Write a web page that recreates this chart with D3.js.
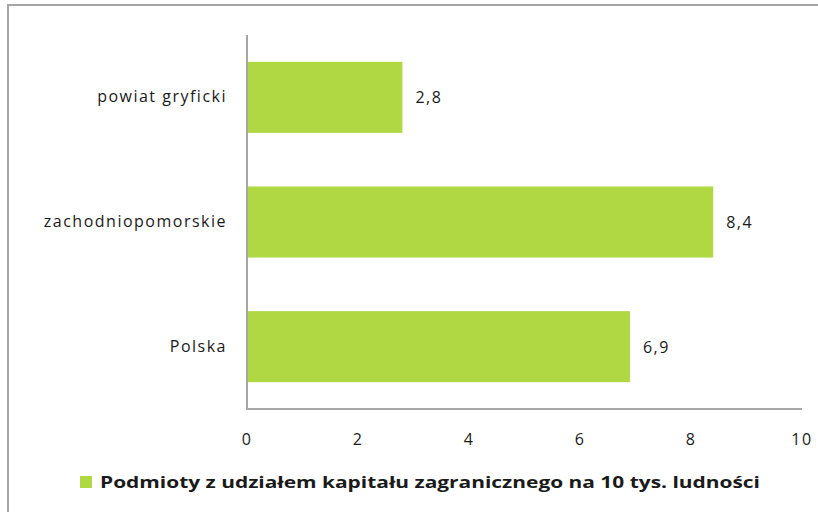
<!DOCTYPE html>
<html>
<head>
<meta charset="utf-8">
<script src="https://cdn.jsdelivr.net/npm/d3@7"></script>
<style>
  body { margin: 0; background: #fff; }
  text { font-family: "Open Sans", "DejaVu Sans", sans-serif; fill: #1a1a1a; }
  .tick, .cat, .val { font-size: 16px; letter-spacing: 1.5px; }
</style>
</head>
<body>
<div class="canvas"></div>
<script>
// data
var categories = ["powiat gryficki", "zachodniopomorskie", "Polska"];
var values = [2.8, 8.4, 6.9];
var ticks = [0, 2, 4, 6, 8, 10];
var seriesName = "Podmioty z udziałem kapitału zagranicznego na 10 tys. ludności";

var width = 818, height = 512;
var svg = d3.select(".canvas")
            .append("svg")
            .attr("width", width)
            .attr("height", height);

// chart border
svg.append("rect")
   .attr("x", 8)
   .attr("y", 5)
   .attr("width", 830)
   .attr("height", 530)
   .attr("fill", "none")
   .attr("stroke", "#a6a6a6")
   .attr("stroke-width", 2);

var x = d3.scaleLinear().domain([0, 10]).range([247, 802]);
var y = d3.scaleBand().domain(categories).range([35, 409]).paddingInner(0.43).paddingOuter(0.215);

// bars
svg.selectAll(".bar")
   .data(values)
   .enter()
   .append("rect")
   .attr("class", "bar")
   .attr("x", x(0))
   .attr("y", function(d, i){ return y(categories[i]); })
   .attr("width", function(d){ return x(d) - x(0); })
   .attr("height", y.bandwidth())
   .attr("fill", "#afd843");

// axes lines
svg.append("line")
   .attr("x1", x(0)).attr("x2", x(0))
   .attr("y1", 35).attr("y2", 409)
   .attr("stroke", "#a6a6a6").attr("stroke-width", 2);

svg.append("line")
   .attr("x1", x(0) - 1).attr("x2", x(10))
   .attr("y1", 409).attr("y2", 409)
   .attr("stroke", "#a6a6a6").attr("stroke-width", 2);

// tick labels
svg.selectAll(".tick")
   .data(ticks)
   .enter()
   .append("text")
   .attr("class", "tick")
   .attr("x", function(d){ return x(d); })
   .attr("y", 445)
   .attr("text-anchor", "middle")
   .text(function(d){ return d; });

// category labels
svg.selectAll(".cat")
   .data(categories)
   .enter()
   .append("text")
   .attr("class", "cat")
   .attr("x", 227)
   .attr("y", function(d){ return y(d) + y.bandwidth() / 2 + 5; })
   .attr("text-anchor", "end")
   .text(function(d){ return d; });

// value labels
svg.selectAll(".val")
   .data(values)
   .enter()
   .append("text")
   .attr("class", "val")
   .attr("x", function(d){ return x(d) + 13; })
   .attr("y", function(d, i){ return y(categories[i]) + y.bandwidth() / 2 + 6; })
   .text(function(d){ return String(d).replace(".", ","); });

// legend
svg.append("rect")
   .attr("x", 80).attr("y", 476)
   .attr("width", 12).attr("height", 12)
   .attr("fill", "#afd843");

svg.append("text")
   .attr("x", 100)
   .attr("y", 488)
   .attr("font-size", 16)
   .attr("font-weight", "bold")
   .attr("textLength", 660)
   .attr("lengthAdjust", "spacingAndGlyphs")
   .text(seriesName);
</script>
</body>
</html>
